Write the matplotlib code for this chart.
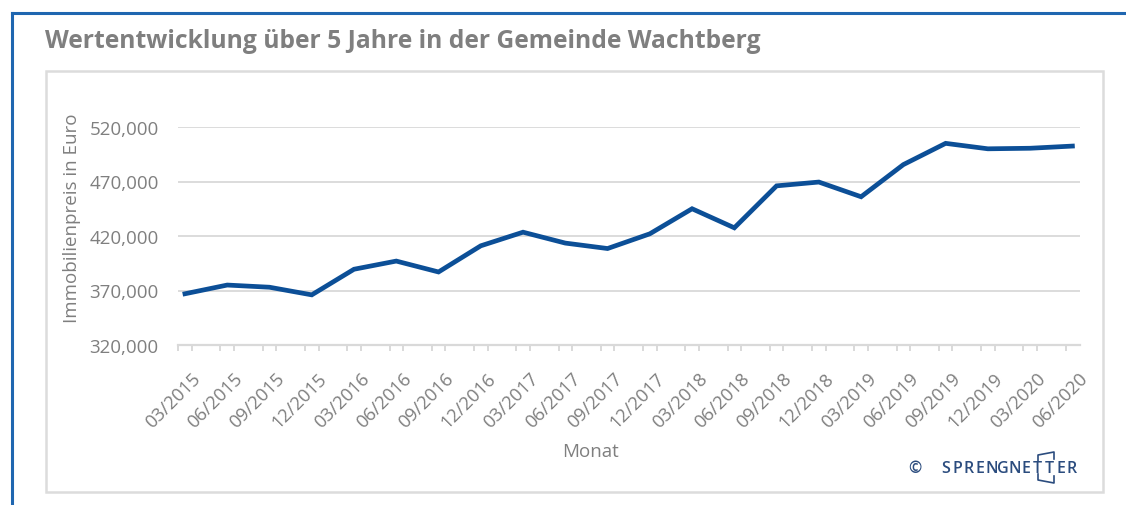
#!/usr/bin/env python3
# wertentwicklung_wachtberg.py
import numpy as np
import matplotlib
matplotlib.use("Agg")
import matplotlib.pyplot as plt
import matplotlib.transforms as mtrans
from matplotlib.lines import Line2D
from matplotlib.patches import Rectangle
from matplotlib.ticker import FuncFormatter

# ----------------------------- Data -----------------------------
months = ["03/2015", "06/2015", "09/2015", "12/2015",
          "03/2016", "06/2016", "09/2016", "12/2016",
          "03/2017", "06/2017", "09/2017", "12/2017",
          "03/2018", "06/2018", "09/2018", "12/2018",
          "03/2019", "06/2019", "09/2019", "12/2019",
          "03/2020", "06/2020"]
prices = [367000, 375000, 373000, 366000,
          389500, 397000, 387000, 411000,
          423500, 413500, 408500, 422000,
          445000, 427500, 466000, 469500,
          456000, 485500, 505000, 500000,
          500500, 502500]
y_ticks = [320000, 370000, 420000, 470000, 520000]

title = "Wertentwicklung über 5 Jahre in der Gemeinde Wachtberg"
xlabel = "Monat"
ylabel = "Immobilienpreis in Euro"

# ----------------------------- Style -----------------------------
FONT = "Open Sans"
GRAY = "#7f7f7f"
GRID = "#d9d9d9"
LINE = "#0c4f97"
FRAME_BLUE = "#1f66b0"
LOGO = "#2b4c7e"

W, H = 1126, 506
fig = plt.figure(figsize=(W / 100, H / 100), dpi=100)
fig.patch.set_facecolor("white")

def fx(px):
    return px / W

def fy(py):
    return 1 - py / H

# outer blue frame (top and left edges only)
fig.add_artist(Line2D([fx(12), 1.0], [fy(14), fy(14)], color=FRAME_BLUE, lw=2.2))
fig.add_artist(Line2D([fx(12), fx(12)], [fy(14), 0.0], color=FRAME_BLUE, lw=2.2))

# inner light-grey chart box
fig.add_artist(Rectangle((fx(46), fy(493)), fx(1103) - fx(46), fy(72) - fy(493),
                         transform=fig.transFigure, fill=False,
                         edgecolor="#dcdcdc", lw=1.8))

fig.text(fx(45), fy(42), title, family=FONT, fontsize=17.7, fontweight="bold",
         color=GRAY, ha="left", va="center")

# ----------------------------- Axes -----------------------------
left, right, top, bottom = 178, 1080, 128, 346
ax = fig.add_axes([fx(left), fy(bottom), fx(right) - fx(left), fy(top) - fy(bottom)])

x = np.arange(len(months))
ax.plot(x, prices, color=LINE, lw=3.4, solid_joinstyle="miter", zorder=3)

ax.set_xlim(-0.165, 21.18)
ax.set_ylim(y_ticks[0], y_ticks[-1])
ax.set_yticks(y_ticks)
ax.yaxis.set_major_formatter(FuncFormatter(lambda v, p: f"{int(v):,}"))
ax.grid(axis="y", color=GRID, lw=1.3)
ax.set_axisbelow(True)

for s in ["top", "right", "left"]:
    ax.spines[s].set_visible(False)
ax.spines["bottom"].set_color(GRID)
ax.spines["bottom"].set_linewidth(1.6)

# category labels, ticks on both sides of each point
ax.set_xticks(x)
ax.set_xticklabels(months, rotation=45, ha="right", va="top",
                   rotation_mode="anchor", family=FONT, fontsize=13.2, color=GRAY)
minor = [i - 0.16 for i in x] + [i + 0.16 for i in x[:-1]]
ax.set_xticks(minor, minor=True)
ax.tick_params(axis="x", which="major", length=0, pad=17)
ax.tick_params(axis="x", which="minor", length=4.3, width=1.4, color=GRID)
ax.tick_params(axis="y", length=0, pad=14)
for lab in ax.get_yticklabels():
    lab.set_family(FONT)
    lab.set_fontsize(13.5)
    lab.set_color(GRAY)

shift = mtrans.ScaledTranslation(6 / 100, 0, fig.dpi_scale_trans)
for lab in ax.get_xticklabels():
    lab.set_transform(lab.get_transform() + shift)

fig.text(fx(72), fy(218), ylabel, family=FONT, fontsize=13.5, color=GRAY,
         rotation=90, ha="center", va="center")
fig.text(fx(590), fy(452), xlabel, family=FONT, fontsize=13.5, color=GRAY,
         ha="center", va="center")

# ----------------------------- Logo -----------------------------
fig.text(fx(915), fy(469), "©", family=FONT, fontsize=11.5, color=LOGO,
         fontweight="semibold", ha="center", va="center")
logo = "SPRENGNETTER"
lx0, lx1 = 946, 1072
for k, ch in enumerate(logo):
    xp = lx0 + k * (lx1 - lx0) / (len(logo) - 1)
    fig.text(fx(xp), fy(469), ch, family=FONT, fontsize=11.5, color=LOGO,
             fontweight="semibold", ha="center", va="center")
# bracket around the TT
bx0, bx1 = 1038, 1054
fig.add_artist(Line2D([fx(bx0), fx(bx0), fx(bx1), fx(bx1)],
                      [fy(462), fy(456), fy(453), fy(460)], color=LOGO, lw=1.2))
fig.add_artist(Line2D([fx(bx0), fx(bx0), fx(bx1), fx(bx1)],
                      [fy(475), fy(481), fy(484), fy(477)], color=LOGO, lw=1.2))

fig.savefig("out.png", dpi=100, facecolor="white")
